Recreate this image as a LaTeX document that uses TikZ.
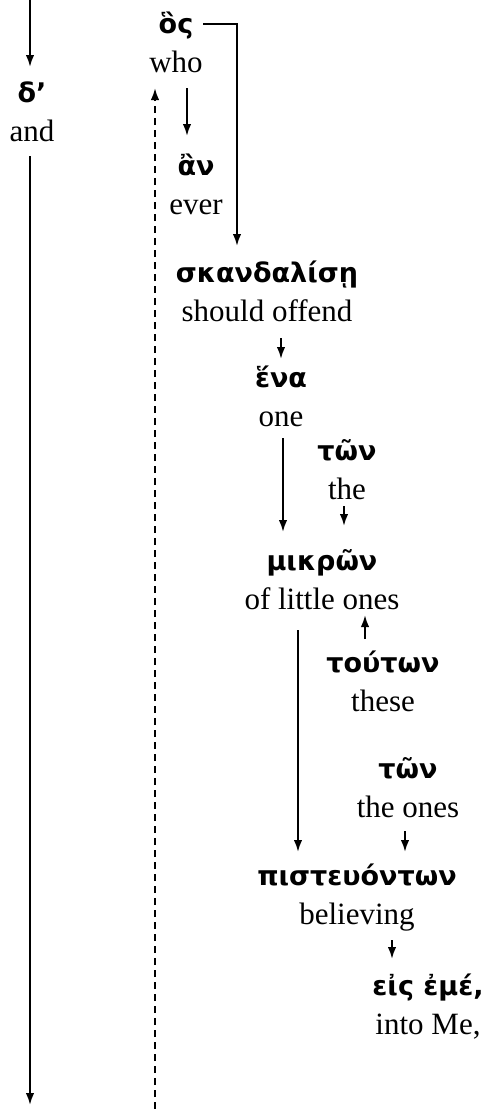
\documentclass[tikz,border=0pt]{standalone}
\usepackage{fontspec}
\setmainfont{Liberation Serif}
\newfontfamily\grkfont{DejaVu Sans}
\usetikzlibrary{arrows.meta,positioning,calc}
\newcommand{\engsize}{\fontsize{31}{37}\selectfont}
\newcommand{\grksize}{\fontsize{27}{32}\selectfont}

\begin{document}
\begin{tikzpicture}[
  x=1pt,y=-1pt,
  node distance=0pt,
  grk/.style={font=\grkfont\bfseries\grksize,anchor=base,inner sep=0pt,
              text height=30pt,text depth=6pt},
  eng/.style={font=\engsize,inner sep=0pt,text height=31pt,text depth=8pt},
  conn/.style={->,shorten <=6pt,shorten >=4pt},
  >={Latex[length=12pt,width=8.5pt]},line width=2pt]
\useasboundingbox (0,0) rectangle (493,1109);
% words: greek above, gloss below
\node[grk] (de) at (32,102) {δ’};
\node[eng,below=of de] (and) {and};
\node[grk] (hos) at (176,33) {ὃς};
\node[eng,below=of hos] (who) {who};
\node[grk] (an) at (196,175) {ἂν};
\node[eng,below=of an] (ever) {ever};
\node[grk] (skand) at (267,282) {σκανδαλίσῃ};
\node[eng,below=of skand] (offend) {should offend};
\node[grk] (hena) at (281,387) {ἕνα};
\node[eng,below=of hena] (one) {one};
\node[grk] (ton) at (347,460) {τῶν};
\node[eng,below=of ton] (the) {the};
\node[grk] (mikron) at (322,570) {μικρῶν};
\node[eng,below=of mikron] (little) {of little ones};
\node[grk] (touton) at (383,672) {τούτων};
\node[eng,below=of touton] (these) {these};
\node[grk] (tonb) at (408,778) {τῶν};
\node[eng,below=of tonb] (theones) {the ones};
\node[grk] (pisteu) at (357,885) {πιστευόντων};
\node[eng,below=of pisteu] (believing) {believing};
\node[grk] (eis) at (428,995) {εἰς ἐμέ,};
\node[eng,below=of eis] (intome) {into Me,};
% free ends at the edges
\coordinate (topin) at (30,0);
\coordinate (leftend) at (30,1109);
\coordinate (dashend) at (155,1109);
% connectors
\draw[conn,shorten <=0pt] (topin) -- (topin |- de.north);
\draw[conn] (leftend |- and.south) -- (leftend);
\draw[conn,dash pattern=on 7pt off 5pt,shorten <=0pt,shorten >=7pt]
  (dashend) -- (dashend |- who.south);
\draw[conn,shorten <=9pt,shorten >=5pt] ([yshift=-3pt]hos.east) -| ([xshift=-30pt]skand.north);
\draw[conn,shorten <=7pt,shorten >=8pt] ([xshift=11pt]who.south) -- ([xshift=11pt]who.south |- an.north);
\draw[conn,shorten <=8pt,shorten >=-3pt] (hena.north |- offend.south) -- (hena.north);
\draw[conn,shorten <=3pt,shorten >=7pt] ([xshift=2pt]one.south) -- ([xshift=2pt]one.south |- mikron.north);
\draw[conn,shorten <=-2pt,shorten >=13pt] ([xshift=-3pt]the.south) -- ([xshift=-3pt]the.south |- mikron.north);
\draw[conn,shorten <=12pt,shorten >=2pt] ([xshift=-24pt]little.south) -- ([xshift=-24pt]little.south |- pisteu.north);
\draw[conn,shorten <=2pt,shorten >=-3pt] ([xshift=-18pt]touton.north) -- ([xshift=-18pt]touton.north |- little.south);
\draw[conn,shorten <=5pt,shorten >=2pt] ([xshift=-3pt]theones.south) -- ([xshift=-3pt]theones.south |- pisteu.north);
\draw[conn,shorten <=7pt,shorten >=5pt] ([xshift=35pt]believing.south) -- ([xshift=35pt]believing.south |- eis.north);
\end{tikzpicture}
\end{document}
